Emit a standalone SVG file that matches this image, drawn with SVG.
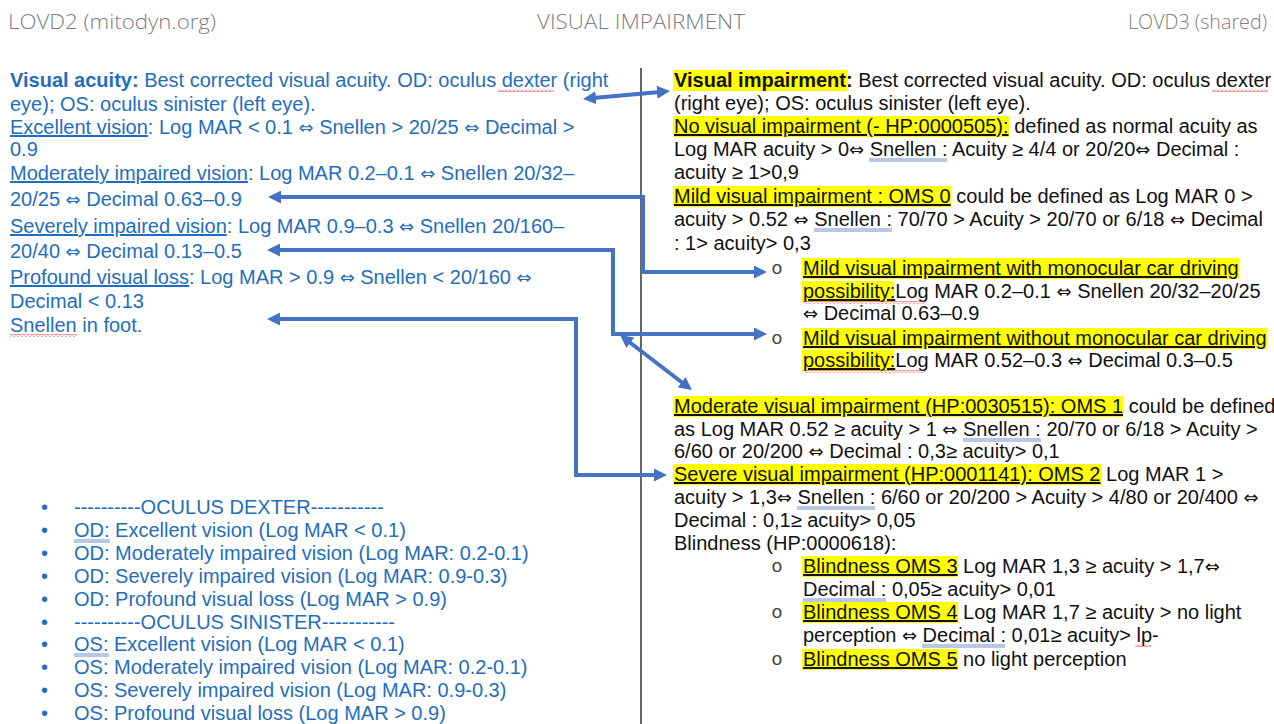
<svg xmlns="http://www.w3.org/2000/svg" width="1274" height="724" viewBox="0 0 1274 724">
<style>
.h{font-family:"Open Sans","Liberation Sans",sans-serif;font-size:21px;font-weight:300;fill:#808080}
.t{font-family:"Liberation Sans",Arial,"DejaVu Sans",sans-serif;font-size:20px}
.bl{fill:#1F6EBE}
.bk{fill:#111111}
.b{font-weight:bold}
.u{text-decoration:underline}
.ar{font-family:"DejaVu Sans",sans-serif;font-size:18px}
.hl{fill:#FFFF00}
.sb{font-family:"Liberation Mono","Courier New",monospace;font-size:19px;fill:#444444}
.conn{fill:none;stroke:#4472C4;stroke-width:4;stroke-linejoin:miter}
.gu{stroke:#7390cc;stroke-width:1;fill:none}
.wv{fill:url(#wavy)}
</style>
<defs>
<marker id="ah" viewBox="0 0 13 13" refX="3" refY="6.5" markerWidth="13" markerHeight="13" markerUnits="userSpaceOnUse" orient="auto-start-reverse">
<path d="M0,0 L13,6.5 L0,13 z" fill="#4472C4"/>
</marker>
<pattern id="wavy" width="4" height="3" patternUnits="userSpaceOnUse">
<path d="M0,2.5 L2,0.5 L4,2.5" fill="none" stroke="#e02020" stroke-width="0.9"/>
</pattern>
</defs>
<rect width="1274" height="724" fill="#ffffff"/>

<g id="header">
<text class="h" x="8" y="29" textLength="208" lengthAdjust="spacingAndGlyphs">LOVD2 (mitodyn.org)</text>
<text class="h" x="537" y="29" textLength="208" lengthAdjust="spacingAndGlyphs">VISUAL IMPAIRMENT</text>
<text class="h" x="1128" y="29" textLength="139" lengthAdjust="spacingAndGlyphs">LOVD3 (shared)</text>
</g>

<line id="divider" x1="641" y1="68" x2="641" y2="724" stroke="#333333" stroke-width="1.5"/>

<g id="lovd2-definitions" class="t bl">
<text x="10" y="87"><tspan class="b">Visual acuity:</tspan> Best corrected visual acuity. OD: oculus dexter (right</text>
<text x="10" y="111">eye); OS: oculus sinister (left eye).</text>
<text x="10" y="134"><tspan class="u">Excellent vision</tspan>: Log MAR &lt; 0.1 <tspan class="ar">⇔</tspan> Snellen &gt; 20/25 <tspan class="ar">⇔</tspan> Decimal &gt;</text>
<text x="10" y="156">0.9</text>
<text x="10" y="180"><tspan class="u">Moderately impaired vision</tspan>: Log MAR 0.2–0.1 <tspan class="ar">⇔</tspan> Snellen 20/32–</text>
<text x="10" y="206">20/25 <tspan class="ar">⇔</tspan> Decimal 0.63–0.9</text>
<text x="10" y="233"><tspan class="u">Severely impaired vision</tspan>: Log MAR 0.9–0.3 <tspan class="ar">⇔</tspan> Snellen 20/160–</text>
<text x="10" y="258">20/40 <tspan class="ar">⇔</tspan> Decimal 0.13–0.5</text>
<text x="10" y="284"><tspan class="u">Profound visual loss</tspan>: Log MAR &gt; 0.9 <tspan class="ar">⇔</tspan> Snellen &lt; 20/160 <tspan class="ar">⇔</tspan></text>
<text x="10" y="308">Decimal &lt; 0.13</text>
<text x="10" y="332">Snellen in foot.</text>
<rect class="wv" x="498" y="89" width="56" height="3"/>
<rect class="wv" x="10" y="334" width="67" height="3"/>
</g>

<g id="lovd2-list" class="t bl">
<text x="41" y="514">•</text><text x="74" y="514">----------OCULUS DEXTER-----------</text>
<text x="41" y="537">•</text><text x="74" y="537">OD: Excellent vision (Log MAR &lt; 0.1)</text>
<text x="41" y="560">•</text><text x="74" y="560">OD: Moderately impaired vision (Log MAR: 0.2-0.1)</text>
<text x="41" y="583">•</text><text x="74" y="583">OD: Severely impaired vision (Log MAR: 0.9-0.3)</text>
<text x="41" y="606">•</text><text x="74" y="606">OD: Profound visual loss (Log MAR &gt; 0.9)</text>
<text x="41" y="629">•</text><text x="74" y="629">----------OCULUS SINISTER-----------</text>
<text x="41" y="651">•</text><text x="74" y="651">OS: Excellent vision (Log MAR &lt; 0.1)</text>
<text x="41" y="674">•</text><text x="74" y="674">OS: Moderately impaired vision (Log MAR: 0.2-0.1)</text>
<text x="41" y="697">•</text><text x="74" y="697">OS: Severely impaired vision (Log MAR: 0.9-0.3)</text>
<text x="41" y="720">•</text><text x="74" y="720">OS: Profound visual loss (Log MAR &gt; 0.9)</text>
<path class="gu" d="M74,540 h36 M74,542 h36 M74,654 h35 M74,656 h35"/>
</g>

<g id="lovd3-highlights">
<rect class="hl" x="673" y="70" width="174" height="21"/>
<rect class="hl" x="673" y="116" width="336" height="21"/>
<rect class="hl" x="673" y="186" width="278" height="21"/>
<rect class="hl" x="802" y="258" width="437" height="21"/>
<rect class="hl" x="802" y="281" width="92" height="21"/>
<rect class="hl" x="802" y="328" width="465" height="21"/>
<rect class="hl" x="802" y="350" width="92" height="21"/>
<rect class="hl" x="673" y="396" width="450" height="21"/>
<rect class="hl" x="673" y="464" width="429" height="21"/>
<rect class="hl" x="802" y="556" width="156" height="21"/>
<rect class="hl" x="802" y="602" width="156" height="21"/>
<rect class="hl" x="802" y="649" width="156" height="21"/>
</g>

<g id="lovd3-definitions" class="t bk">
<text x="674" y="87"><tspan class="b">Visual impairment:</tspan> Best corrected visual acuity. OD: oculus dexter</text>
<text x="674" y="110">(right eye); OS: oculus sinister (left eye).</text>
<text x="674" y="133"><tspan class="u">No visual impairment (- HP:0000505):</tspan> defined as normal acuity as</text>
<text x="674" y="156">Log MAR acuity &gt; 0<tspan class="ar">⇔</tspan> Snellen : Acuity ≥ 4/4 or 20/20<tspan class="ar">⇔</tspan> Decimal :</text>
<text x="674" y="179">acuity ≥ 1&gt;0,9</text>
<text x="674" y="203"><tspan class="u">Mild visual impairment : OMS 0</tspan> could be defined as Log MAR 0 &gt;</text>
<text x="674" y="226">acuity &gt; 0.52 <tspan class="ar">⇔</tspan> Snellen : 70/70 &gt; Acuity &gt; 20/70 or 6/18 <tspan class="ar">⇔</tspan> Decimal</text>
<text x="674" y="250">: 1&gt; acuity&gt; 0,3</text>
<text class="sb" x="777" y="274" text-anchor="middle">o</text>
<text x="803" y="275"><tspan class="u">Mild visual impairment with monocular car driving</tspan></text>
<text x="803" y="298"><tspan class="u">possibility:</tspan>Log MAR 0.2–0.1 <tspan class="ar">⇔</tspan> Snellen 20/32–20/25</text>
<text x="803" y="320"><tspan class="ar">⇔</tspan> Decimal 0.63–0.9</text>
<text class="sb" x="777" y="344" text-anchor="middle">o</text>
<text x="803" y="345"><tspan class="u">Mild visual impairment without monocular car driving</tspan></text>
<text x="803" y="367"><tspan class="u">possibility:</tspan>Log MAR 0.52–0.3 <tspan class="ar">⇔</tspan> Decimal 0.3–0.5</text>
<text x="674" y="413"><tspan class="u">Moderate visual impairment (HP:0030515): OMS 1</tspan> could be defined</text>
<text x="674" y="436">as Log MAR 0.52 ≥ acuity &gt; 1 <tspan class="ar">⇔</tspan> Snellen : 20/70 or 6/18 &gt; Acuity &gt;</text>
<text x="674" y="458">6/60 or 20/200 <tspan class="ar">⇔</tspan> Decimal : 0,3≥ acuity&gt; 0,1</text>
<text x="674" y="481"><tspan class="u">Severe visual impairment (HP:0001141): OMS 2</tspan> Log MAR 1 &gt;</text>
<text x="674" y="504">acuity &gt; 1,3<tspan class="ar">⇔</tspan> Snellen : 6/60 or 20/200 &gt; Acuity &gt; 4/80 or 20/400 <tspan class="ar">⇔</tspan></text>
<text x="674" y="527">Decimal : 0,1≥ acuity&gt; 0,05</text>
<text x="674" y="550">Blindness (HP:0000618):</text>
<text class="sb" x="777" y="572" text-anchor="middle">o</text>
<text x="803" y="573"><tspan class="u">Blindness OMS 3</tspan> Log MAR 1,3 ≥ acuity &gt; 1,7<tspan class="ar">⇔</tspan></text>
<text x="803" y="596">Decimal : 0,05≥ acuity&gt; 0,01</text>
<text class="sb" x="777" y="618" text-anchor="middle">o</text>
<text x="803" y="619"><tspan class="u">Blindness OMS 4</tspan> Log MAR 1,7 ≥ acuity &gt; no light</text>
<text x="803" y="642">perception <tspan class="ar">⇔</tspan> Decimal : 0,01≥ acuity&gt; lp-</text>
<text class="sb" x="777" y="665" text-anchor="middle">o</text>
<text x="803" y="666"><tspan class="u">Blindness OMS 5</tspan> no light perception</text>
<path class="gu" d="M869,159 h78 M869,161 h78 M814,229 h78 M814,231 h78 M963,439 h78 M963,441 h78 M797,507 h78 M797,509 h78 M803,599 h83 M803,601 h83 M922,645 h83 M922,647 h83"/>
<rect class="wv" x="1212" y="89" width="56" height="3"/>
<rect class="wv" x="803" y="301" width="122" height="3"/>
<rect class="wv" x="803" y="370" width="122" height="3"/>
<rect class="wv" x="1135" y="644" width="16" height="3"/>
</g>

<g id="connectors">
<path class="conn" d="M593,98.1 L660,91.9" marker-start="url(#ah)" marker-end="url(#ah)"/>
<path class="conn" d="M278,197 L643,197 L643,272 L757,272" marker-start="url(#ah)" marker-end="url(#ah)"/>
<path class="conn" d="M277,250 L613,250 L613,334 L757,334" marker-start="url(#ah)" marker-end="url(#ah)"/>
<path class="conn" d="M628,341 L684,384" marker-start="url(#ah)" marker-end="url(#ah)"/>
<path class="conn" d="M277,319 L576,319 L576,475 L657,475" marker-start="url(#ah)" marker-end="url(#ah)"/>
</g>
</svg>
